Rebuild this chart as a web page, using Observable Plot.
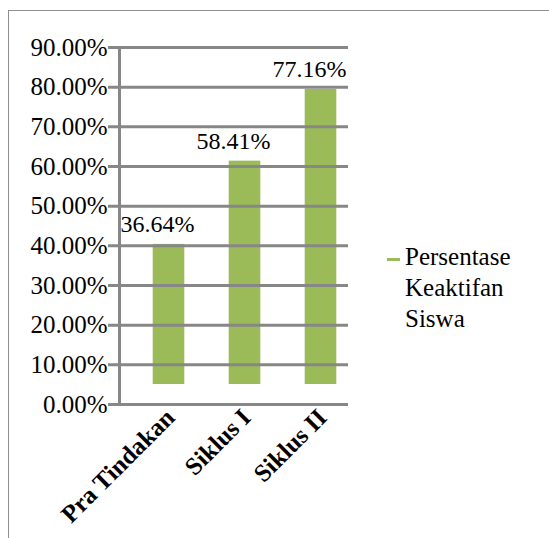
<!DOCTYPE html>
<html>
<head>
<meta charset="utf-8">
<script src="https://cdn.jsdelivr.net/npm/d3@7"></script>
<script src="https://cdn.jsdelivr.net/npm/@observablehq/plot@0.6"></script>
<style>
  html, body { margin: 0; padding: 0; background: #fff; }
  #wrap { position: relative; width: 549px; height: 538px; overflow: hidden; }
  #border { position: absolute; left: 8px; top: 10px; right: -10px; bottom: -10px; border-left: 1.5px solid #8f8f8f; border-top: 1.5px solid #8f8f8f; }
  #chart { position: absolute; left: 0; top: 0; }
  #legend { position: absolute; left: 387px; top: 241px; font-size: 25px; line-height: 31px; color: #000; }
  #legend .sw { position: absolute; left: 0; top: 17px; width: 13px; height: 3px; background: #9BBB59; }
  #legend .txt { margin-left: 18px; }
</style>
</head>
<body>
<div id="wrap" style="font-family:'Liberation Serif'">
  <div id="border"></div>
  <div id="chart"></div>
  <div id="legend" style="font-family:'Liberation Serif'"><div class="sw"></div><div class="txt" style="font-family:'Liberation Serif'">Persentase<br>Keaktifan<br>Siswa</div></div>
</div>
<script>
const categories = ["Pra Tindakan", "Siklus I", "Siklus II"];
const values = [36.64, 58.41, 77.16];
const yTicks = [0, 10, 20, 30, 40, 50, 60, 70, 80, 90];
const seriesName = "Persentase Keaktifan Siswa";

// 3D-style depth projection of the bars (back plane is offset and slightly scaled)
const DEPTH_BASE = 5.04;
const DEPTH_SCALE = 0.964;

const data = categories.map((c, i) => ({cat: c, value: values[i]}));
const green = "#9BBB59";
const gridColor = "#878787";
const fmt = v => d3.format(".2f")(v) + "%";
const serif = "Liberation Serif";

const chart = Plot.plot({
  width: 549,
  height: 538,
  marginLeft: 119,
  marginRight: 202,
  marginTop: 47,
  marginBottom: 134,
  style: {background: "transparent", color: "#000"},
  x: {domain: categories, padding: 0, axis: null},
  y: {domain: [0, 90], axis: null},
  marks: [
    Plot.barY(data, {
      x: "cat",
      y1: () => DEPTH_BASE,
      y2: d => DEPTH_BASE + DEPTH_SCALE * d.value,
      fill: green,
      insetLeft: 33.7,
      insetRight: 10.7
    }),
    Plot.ruleY(yTicks, {stroke: gridColor, strokeWidth: 3, insetLeft: -11, insetRight: -1}),
    Plot.frame({anchor: "left", stroke: gridColor, strokeWidth: 3}),
    Plot.axisY({
      ticks: yTicks,
      tickSize: 0,
      tickPadding: 12,
      tickFormat: fmt,
      fontSize: 25,
      fontFamily: serif,
      label: null
    }),
    Plot.axisX({
      tickSize: 0,
      tickRotate: -45,
      tickPadding: 9,
      dx: 13,
      fontSize: 25,
      fontWeight: "bold",
      fontFamily: serif,
      label: null
    }),
    Plot.text(data, {
      x: "cat",
      y: d => DEPTH_BASE + DEPTH_SCALE * d.value,
      text: d => fmt(d.value),
      dy: -12,
      lineAnchor: "bottom",
      fontSize: 24,
      fontFamily: serif,
      fill: "#000"
    })
  ]
});
chart.setAttribute("font-family", serif);
document.getElementById("chart").appendChild(chart);
</script>
</body>
</html>
